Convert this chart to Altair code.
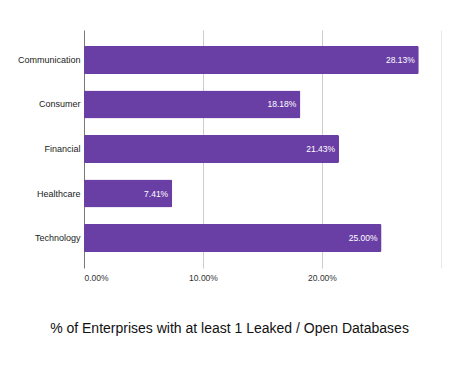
import altair as alt
import pandas as pd

categories = ["Communication", "Consumer", "Financial", "Healthcare", "Technology"]
values = [0.2813, 0.1818, 0.2143, 0.0741, 0.25]

df = pd.DataFrame({"cat": categories, "val": values})

base = alt.Chart(df)

bars = base.mark_bar(color="#6A3FA5", cornerRadius=1.5).encode(
    y=alt.Y("cat:N", sort=categories,
            scale=alt.Scale(paddingInner=0.372, paddingOuter=0.36),
            axis=alt.Axis(title=None, ticks=False, domain=False, labelFontSize=9,
                          labelColor="#222", labelPadding=4, minExtent=76, maxExtent=76,
                          labelFont="Liberation Sans")),
    x=alt.X("val:Q", scale=alt.Scale(domain=[0, 0.3], nice=False),
            axis=alt.Axis(values=[0, 0.1, 0.2, 0.3], ticks=False, domain=False,
                          labelExpr="datum.value >= 0.3 ? '' : format(datum.value, '.2%')",
                          labelFontSize=8.5, labelColor="#333", labelPadding=5,
                          labelFont="Liberation Sans",
                          gridColor={"condition": [
                              {"test": "datum.value === 0", "value": "#777777"},
                              {"test": "datum.value >= 0.3", "value": "#e8e8e8"}],
                              "value": "#cccccc"},
                          title="% of Enterprises with at least 1 Leaked / Open Databases",
                          titleFontSize=14, titleFontWeight="normal", titleColor="#111",
                          titleFont="Liberation Sans",
                          titleX=145, titleY=64, titleAlign="center", titleBaseline="alphabetic")),
)

labels = base.mark_text(align="right", baseline="middle", dx=-4, color="white",
                        fontSize=8.5, font="Liberation Sans").encode(
    y=alt.Y("cat:N", sort=categories),
    x=alt.X("val:Q"),
    text=alt.Text("val:Q", format=".2%"),
)

chart = (bars + labels).properties(
    width=357, height=238,
    padding={"left": 0, "top": 22, "right": 5, "bottom": 5},
).configure_view(stroke=None)

chart.save("out.html", embed_options={"renderer": "svg", "actions": False})
